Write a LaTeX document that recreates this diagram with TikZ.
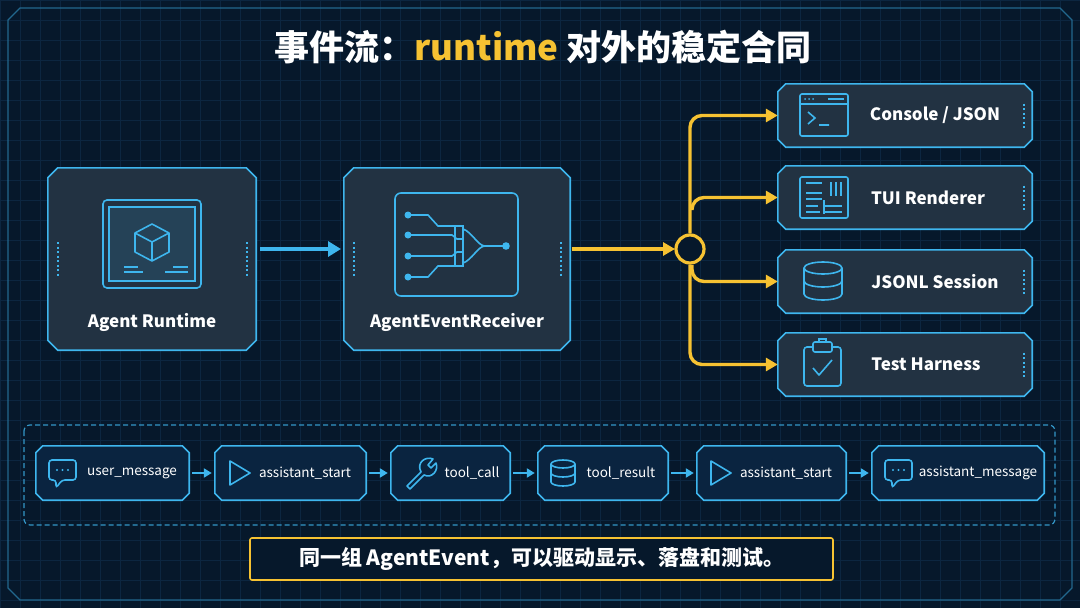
\documentclass[tikz,border=0pt]{standalone}
\usepackage{fontspec}
\setmainfont{Noto Sans CJK SC}
\usetikzlibrary{arrows.meta}
\definecolor{bg}{HTML}{06182B}
\definecolor{gridc}{HTML}{0C2640}
\definecolor{cy}{HTML}{3EB6EE}
\definecolor{yl}{HTML}{F6C232}
\definecolor{boxf}{HTML}{223242}
\definecolor{evf}{HTML}{0A2440}
\newcommand{\chf}[4]{% name, chamfer, fill, linewidth
 \draw[draw=cy,line width=#4,fill=#3] ([xshift=#2]#1.north west)--([xshift=-#2]#1.north east)--([yshift=-#2]#1.north east)--([yshift=#2]#1.south east)--([xshift=-#2]#1.south east)--([xshift=#2]#1.south west)--([yshift=#2]#1.south west)--([yshift=-#2]#1.north west)--cycle;}
\begin{document}
\begin{tikzpicture}[x=1pt,y=-1pt,
 box/.style={rectangle,inner sep=0pt},
 lbl/.style={text=white,font=\bfseries\fontsize{17}{20}\selectfont},
 elbl/.style={text=white,font=\fontsize{13.5}{15}\selectfont},
 ico/.style={draw=cy,line width=1.6pt},
 ya/.style={draw=yl,line width=3.4pt,-{Triangle[width=13pt,length=12pt]},rounded corners=12pt},
 ba/.style={draw=cy,line width=2.6pt,-{Triangle[width=9pt,length=8pt]}},
 dots/.style={draw=cy,line width=2pt,dash pattern=on 2pt off 2.5pt}]
\useasboundingbox (0,0) rectangle (1080,608);
\fill[bg] (0,0) rectangle (1080,608);
\foreach \i in {0,20,...,1080} \draw[gridc,line width=0.6pt] (\i,0)--(\i,608);
\foreach \j in {0,20,...,600} \draw[gridc,line width=0.6pt] (0,\j)--(1080,\j);
\draw[cy!50!bg,line width=1.2pt] (20,8)--(1060,8)--(1072,20)--(1072,588)--(1060,600)--(20,600)--(8,588)--(8,20)--cycle;
% title
\node (title) at (543,47) {\fontsize{35}{40}\selectfont\bfseries\color{white}事件流：\color{yl}runtime\color{white}\ 对外的稳定合同};
% big boxes
\node[box,minimum width=208pt,minimum height=182pt] (rt) at (152,259) {}; \chf{rt}{10pt}{boxf}{1.6pt}
\node[lbl] (rtl) at (152,322) {Agent Runtime};
\node[box,minimum width=226pt,minimum height=182pt] (rc) at (457,259) {}; \chf{rc}{10pt}{boxf}{1.6pt}
\node[lbl] (rcl) at (457,322) {AgentEventReceiver};
\foreach \x in {58,247,354,561} \draw[dots] (\x,242)--(\x,276);
% runtime icon
\draw[ico,rounded corners=4pt] (103,200) rectangle (201,288);
\draw[ico,fill=cy!12!boxf] (109,207) rectangle (195,281);
\draw[ico,line join=round] (152,224)--(169,233)--(169,252)--(152,261)--(135,252)--(135,233)--cycle (135,233)--(152,242)--(169,233) (152,242)--(152,261);
\draw[ico] (124,267)--(138,267) (124,272)--(143,272) (173,267)--(188,267) (165,272)--(188,272);
% receiver icon
\draw[ico,rounded corners=6pt] (395,193) rectangle (518,296);
\foreach \y in {215,235,256,277}{ \fill[cy] (408,\y) circle (3.5pt); }
\draw[ico] (408,215)--(428,215)--(438,226)--(460,226) (408,235)--(452,235)--(457,239)--(463,239)
 (408,256)--(452,256)--(457,252)--(463,252) (408,277)--(428,277)--(438,266)--(460,266);
\draw[ico] (455,226) rectangle (463,266);
\draw[ico] (463,229) .. controls (472,232) and (478,246) .. (485,246) (463,263) .. controls (472,260) and (478,246) .. (485,246);
\draw[ico] (485,246)--(506,246); \fill[cy] (506,246) circle (3.8pt);
% arrows top
\draw[ba,line width=3.6pt,-{Triangle[width=15pt,length=13pt]}] (260,249) -- (341,249);
\coordinate (hub) at (690,249);
\draw[ya] (572,249)--(675,249);
\node[circle,draw=yl,line width=3.2pt,fill=bg,minimum size=28pt,inner sep=0pt] (h) at (hub) {};
% outputs
\foreach \n/\y in {o1/115.5,o2/197.5,o3/281.5,o4/364.5}{
 \node[box,minimum width=254pt,minimum height=63pt] (\n) at (905,\y) {}; \chf{\n}{8pt}{boxf}{1.6pt}
 \draw[dots] (1024,\y-12)--(1024,\y+12);
}
\node[lbl] at (935,115.5) {Console / JSON};
\node[lbl] at (928,197.5) {TUI Renderer};
\node[lbl] at (935,281.5) {JSONL Session};
\node[lbl] at (926,364.5) {Test Harness};
\draw[ya] (h.north) |- (o1.west);
\draw[ya] (692,210) |- (o2.west);
\draw[ya] (h.south) |- (o4.west);
\draw[ya] (692,265) |- (o3.west);
% output icons
\draw[ico,rounded corners=2pt] (800,94) rectangle (848,136); \draw[ico] (800,104)--(848,104);
\draw[ico] (808,112)--(815,118)--(808,124) (819,125)--(829,125);
\foreach \x in {805,809,813} \fill[cy] (\x,99) circle (1pt); \draw[ico] (828,99)--(844,99);
\draw[ico,rounded corners=2pt] (800,177) rectangle (848,218);
\draw[ico] (806,183)--(822,183) (806,193)--(822,193) (806,199)--(822,199) (806,206)--(818,206) (806,212)--(820,212) (825,206)--(842,206) (825,212)--(842,212) (824,200)--(824,214);
\draw[ico] (831,182)--(831,196) (836,182)--(836,196) (841,182)--(841,196);
\draw[ico] (804,268) -- (804,294) arc (180:0:19 and 6) -- (842,268);
\draw[ico] (823,268) ellipse (19 and 6);
\draw[ico] (804,281) arc (180:0:19 and 6);
\draw[ico,rounded corners=3pt] (804,347) rectangle (841,386);
\draw[ico,fill=boxf,rounded corners=2pt] (813,342) rectangle (832,352); \draw[ico] (819,342)--(819,339)--(826,339)--(826,342);
\draw[ico,line join=round] (813,368)--(819,375)--(832,360);
% event strip
\draw[cy!80!bg,line width=1.2pt,dash pattern=on 5pt off 3pt,rounded corners=6pt] (24,425) rectangle (1055,525);
\foreach \n/\x/\w in {e1/112.5/153,e2/290.5/151,e3/450.5/119,e4/603/130,e5/771.5/149,e6/958/172}{
 \node[box,minimum width=\w pt,minimum height=54pt] (\n) at (\x,473) {}; \chf{\n}{7pt}{evf}{1.6pt}
}
\node[elbl] at (132,473) {user\_message};
\node[elbl] at (305,473) {assistant\_start};
\node[elbl] at (472,473) {tool\_call};
\node[elbl] at (621,473) {tool\_result};
\node[elbl] at (786,473) {assistant\_start};
\node[elbl] at (978,473) {assistant\_message};
\foreach \a/\b in {e1/e2,e2/e3,e3/e4,e4/e5,e5/e6} \draw[ba] ([xshift=3pt]\a.east)--([xshift=-3pt]\b.west);
% event icons
\draw[ico,rounded corners=3pt] (49,460)--(76,460)--(76,480)--(62,480)--(56,488)--(56,480)--(49,480)--cycle;
\foreach \x in {57,62.5,68} \fill[cy] (\x,470) circle (1.2pt);
\draw[ico,line join=round] (230,461)--(250,473)--(230,485)--cycle;
\draw[ico,line join=round] (711,461)--(731,473)--(711,485)--cycle;
\draw[ico,line join=round] (407,486)--(421,472) .. controls (416,462) and (426,456) .. (433,459) -- (428,465) -- (431,468) -- (436,463) .. controls (439,470) and (432,479) .. (424,475) -- (410,489) -- cycle;
\draw[ico] (563,464) ellipse (12 and 4); \draw[ico] (551,464)--(551,482) arc (180:0:12 and 4) -- (575,464); \draw[ico] (551,473) arc (180:0:12 and 4);
\draw[ico,rounded corners=3pt] (885,460)--(912,460)--(912,480)--(898,480)--(892,488)--(892,480)--(885,480)--cycle;
\foreach \x in {893,898.5,904} \fill[cy] (\x,470) circle (1.2pt);
% bottom note
\node[draw=yl,line width=1.6pt,fill=bg,rounded corners=2pt,minimum width=583pt,minimum height=42pt] (note) at (541.5,559) {};
\node[text=white] at (note) {\fontsize{21}{24}\selectfont\bfseries 同一组 AgentEvent，可以驱动显示、落盘和测试。};
\end{tikzpicture}
\end{document}
